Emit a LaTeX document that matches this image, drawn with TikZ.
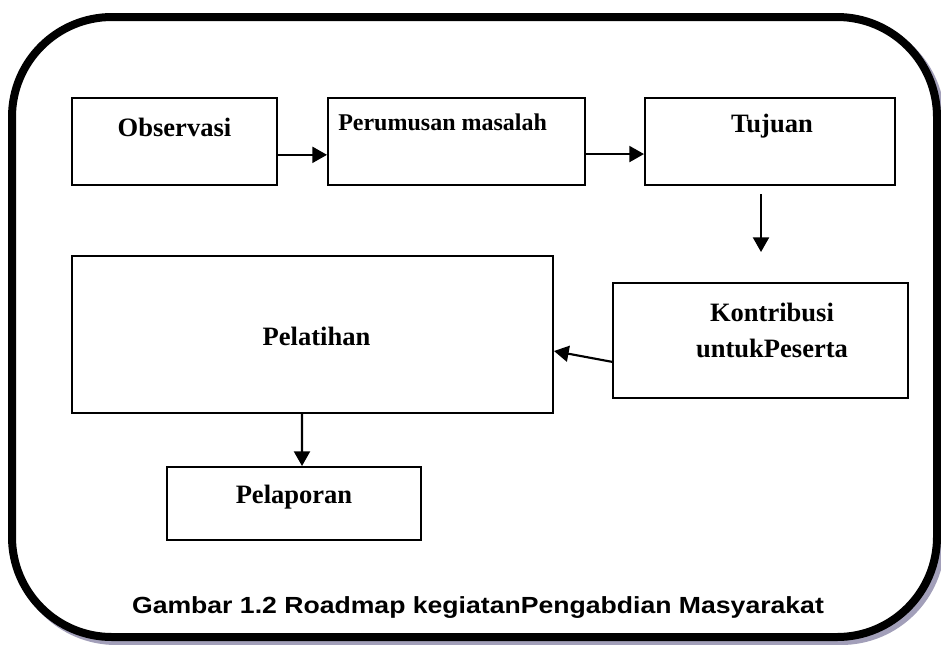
\documentclass[tikz,border=0pt]{standalone}
\usepackage{fontspec}
\setmainfont{Liberation Serif}
\newfontfamily\capfont{Liberation Sans}
\usetikzlibrary{arrows.meta}
\definecolor{shadowc}{HTML}{A29FB9}
\tikzset{
  box/.style={draw=black, line width=1.5pt, minimum width=#1, inner sep=0pt},
  lbl/.style={inner sep=0pt, font=\fontsize{19.9}{24}\selectfont\bfseries},
  arr/.style={line width=1.6pt, -{Triangle[length=11pt,width=12pt]}},
}
\begin{document}
\begin{tikzpicture}[x=0.75pt,y=-0.75pt]
\useasboundingbox (0,0) rectangle (941,644);
% outer frame with shadow
\draw[shadowc, line width=6pt, rounded corners=75pt] (16,21) rectangle (941,641);
\fill[white, rounded corners=75pt] (12,17) rectangle (937,637);
\draw[black, line width=6pt, rounded corners=75pt] (12,17) rectangle (937,637);
% boxes
\node[box=205*0.75pt, minimum height=87*0.75pt] (obs) at (174.5,141.5) {};
\node[box=257*0.75pt, minimum height=87*0.75pt] (per) at (456.5,141.5) {};
\node[box=250*0.75pt, minimum height=87*0.75pt] (tuj) at (770,141.5) {};
\node[box=295*0.75pt, minimum height=115*0.75pt] (kon) at (760.5,340.5) {};
\node[box=481*0.75pt, minimum height=157*0.75pt] (pel) at (312.5,334.5) {};
\node[box=254*0.75pt, minimum height=73*0.75pt] (lap) at (294,503.5) {};
% texts
\node[lbl] (tobs) at (174.5,127) {Observasi};
\node[lbl, font=\fontsize{18}{22}\selectfont\bfseries, anchor=west] (tper) at (338,122) {Perumusan masalah};
\node[lbl] (ttuj) at (772,126) {Tujuan};
\node[lbl, align=center, font=\fontsize{19.9}{27}\selectfont\bfseries] (tkon) at (772,330) {Kontribusi\\untukPeserta};
\node[lbl] (tpel) at (316.5,336) {Pelatihan};
\node[lbl] (tlap) at (294,497) {Pelaporan};
\node[inner sep=0pt, anchor=base, font=\capfont\fontsize{17.5}{20}\selectfont\bfseries] (cap) at (478,613) {\scalebox{1.14}[1]{Gambar 1.2 Roadmap kegiatanPengabdian Masyarakat}};
% connectors
\coordinate (k1) at (761,252);
\draw[arr] ([yshift=-10pt]obs.east) -- ([yshift=-10pt]per.west);
\draw[arr] ([yshift=-9.4pt]per.east) -- ([yshift=-9.4pt]tuj.west);
\draw[arr] ([xshift=-6.75pt,yshift=-6pt]tuj.south) -- (k1);
\draw[arr] ([yshift=-16pt]kon.west) -- ([yshift=-12.4pt]pel.east);
\draw[arr] ([xshift=-7.9pt]pel.south) -- ([xshift=6pt]lap.north);
\end{tikzpicture}
\end{document}
